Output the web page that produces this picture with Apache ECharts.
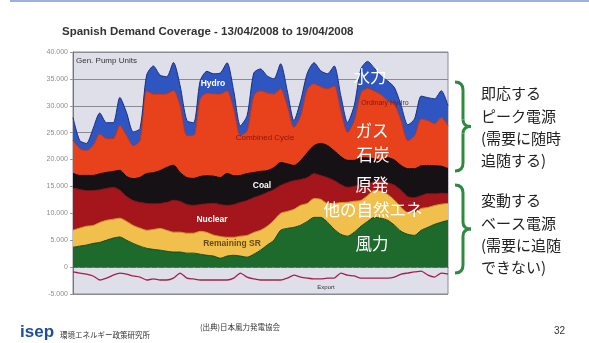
<!DOCTYPE html>
<html>
<head>
<meta charset="utf-8">
<script src="https://cdn.jsdelivr.net/npm/echarts@6/dist/echarts.min.js"></script>
<style>
html,body{margin:0;padding:0;background:#fff;}
#main{width:589px;height:343px;}
</style>
</head>
<body>
<div id="main"></div>
<script>
// 3-hourly points, 13/04/2008 00:00 to 20/04/2008 00:00 (MW)
var hours = [];
for (var h = 0; h <= 168; h += 3) {
  var d = 13 + Math.floor(h / 24);
  var hh = h % 24;
  hours.push(d + '/04 ' + (hh < 10 ? '0' : '') + hh + ':00');
}

var wind = [3700,3900,4100,4400,4600,5000,5400,5600,5000,4400,3900,3500,3300,3150,2950,2800,2800,2600,2600,2400,2200,2050,1650,2050,2200,2050,1850,2400,3150,4100,5000,6850,7200,7400,7800,8500,9250,9250,8350,7050,6100,5750,6500,7600,8500,9250,9100,8700,7800,6650,6100,5900,6850,7400,7950,8350,8700];
var remainingSR = [3150,3350,3500,3350,3700,3700,3500,3500,3500,3350,3350,3350,3700,4050,3900,3700,3700,3700,3700,4250,4250,3900,4050,3500,3350,3700,4050,4050,3700,3500,3700,3150,3150,3350,3700,3350,3500,3350,3500,4800,5900,6300,5750,4800,4800,5000,5000,4800,4650,4450,4050,4250,4050,3700,3500,3350,3150];
var nuclear = [7800,7200,6650,6500,6100,5950,5950,5200,4650,4650,4800,5000,4800,4650,5200,5950,5750,5350,5200,5000,5350,5950,5950,5950,6100,6300,6500,6500,6500,6300,5750,5200,5350,5350,4800,4800,4650,4450,4800,4250,3350,2800,2800,2950,2200,1650,2050,2200,2800,3150,2950,2800,2400,2600,2200,2050,1850];
var coal = [2800,2600,2800,2800,2950,2950,2950,3700,3700,4050,4650,5550,5750,6100,6500,6500,5350,5000,5000,5200,5200,5000,5000,5950,5350,5000,5000,4650,4450,4050,4050,4250,3500,2800,3500,4650,5200,5950,5950,5550,5200,5000,4800,5000,4800,4250,3700,4650,4650,4650,5200,5350,5550,5200,5200,5000,4650];
var combinedCycle = [6100,5000,4650,5550,7400,6300,6100,8350,7600,6100,6850,15350,14650,14250,13700,13900,12400,7800,7950,14450,15350,15350,15550,15350,12400,7400,7950,14250,15000,14450,13700,13700,10750,7050,8350,11850,11500,10550,10550,12050,8500,5200,7400,12050,12950,12600,12200,10550,10350,8350,5200,6100,8700,8350,7800,9050,7950];
var hydro = [4250,1500,1300,3150,3900,2950,2950,5200,4250,2600,2200,2950,5200,3500,3150,5200,3700,2800,2400,3350,4050,3700,3900,5200,3350,1850,2800,4250,4050,3150,2800,4650,2800,1300,2800,2950,3900,2950,2800,3700,2800,1850,2800,4450,5000,4250,3500,3700,3150,2800,2950,3150,4250,4250,4650,5000,3700];
var exportPump = [-900,-1100,-1300,-1650,-2400,-2050,-1500,-1100,-1300,-1650,-1850,-2400,-2200,-2400,-2400,-2050,-1100,-2050,-2200,-2400,-2400,-2400,-2400,-2400,-2050,-1100,-1850,-2200,-2400,-2400,-2400,-2400,-2050,-1500,-1850,-2050,-2200,-2200,-2050,-2050,-1100,-1500,-1650,-2050,-2050,-2050,-2050,-2050,-1850,-1300,-1100,-900,-750,-1500,-1850,-1100,-1300];

var yTicks = [-5000, 40000, 5000];

var chartDom = document.getElementById('main');
var myChart = echarts.init(chartDom, null, {renderer: 'canvas'});

function area(name, data, fill, edge) {
  return {
    name: name,
    type: 'line',
    stack: 'total',
    data: data,
    symbol: 'none',
    smooth: 0.25,
    lineStyle: {color: edge, width: 1},
    areaStyle: {color: fill, opacity: 1},
    z: 2
  };
}

var jp = '"Noto Sans CJK JP", sans-serif';
var en = '"Liberation Sans", Arial, sans-serif';

function label(x, y, text, size, color, weight, align) {
  return {
    type: 'text', x: x, y: y, z: 50,
    style: {
      text: text, fill: color, font: (weight || 'normal') + ' ' + size + 'px ' + en,
      textAlign: align || 'center', textVerticalAlign: 'middle'
    }
  };
}
function jlabel(x, y, text) {
  return {
    type: 'text', x: x, y: y, z: 50,
    style: {
      text: text, fill: '#fff', font: '16.5px ' + jp,
      textAlign: 'center', textVerticalAlign: 'middle',
      shadowColor: 'rgba(0,0,0,0.4)', shadowBlur: 2
    }
  };
}
function note(x, y, text) {
  return {
    type: 'text', x: x, y: y, z: 50,
    style: {text: text, fill: '#222', font: '15px ' + jp, textVerticalAlign: 'middle'}
  };
}
// curly brace built from curves and lines
function brace(top, bottom) {
  var mid = (top + bottom) / 2;
  var st = {stroke: '#2d8a40', lineWidth: 3, fill: null};
  return {
    type: 'group', z: 50,
    children: [
      {type: 'bezierCurve', shape: {x1: 455, y1: top, x2: 463, y2: top + 8, cpx1: 463, cpy1: top}, style: st},
      {type: 'line', shape: {x1: 463, y1: top + 8, x2: 463, y2: mid - 7}, style: st},
      {type: 'bezierCurve', shape: {x1: 463, y1: mid - 7, x2: 471, y2: mid, cpx1: 463, cpy1: mid}, style: st},
      {type: 'bezierCurve', shape: {x1: 471, y1: mid, x2: 463, y2: mid + 7, cpx1: 463, cpy1: mid}, style: st},
      {type: 'line', shape: {x1: 463, y1: mid + 7, x2: 463, y2: bottom - 8}, style: st},
      {type: 'bezierCurve', shape: {x1: 463, y1: bottom - 8, x2: 455, y2: bottom, cpx1: 463, cpy1: bottom}, style: st}
    ]
  };
}

var option = {
  backgroundColor: '#ffffff',
  animation: false,
  grid: {
    left: 73, right: 141, top: 52, bottom: 49,
    show: true, backgroundColor: '#dfdfe9', borderColor: '#8a8a96', borderWidth: 1
  },
  xAxis: {
    type: 'category',
    data: hours,
    boundaryGap: false,
    axisLine: {onZero: true, lineStyle: {color: '#d8324a', type: 'dashed', width: 1.2}},
    axisTick: {show: false},
    axisLabel: {show: false},
    z: 10
  },
  yAxis: {
    type: 'value',
    min: yTicks[0], max: yTicks[1], interval: yTicks[2],
    axisLine: {show: true, lineStyle: {color: '#777'}},
    axisTick: {show: true, length: 3, lineStyle: {color: '#999'}},
    axisLabel: {
      color: '#8d8d8d', fontSize: 7, margin: 5, fontFamily: en,
      formatter: function (v) { return String(v).replace(/\B(?=(\d{3})+(?!\d))/g, '.'); }
    },
    splitLine: {lineStyle: {color: '#8a8a92', width: 1}}
  },
  series: [
    area('Wind', wind, '#1e6a2c', '#11451a'),
    area('Remaining SR', remainingSR, '#f1c04c', '#c99a2a'),
    area('Nuclear', nuclear, '#a5161c', '#6e0e12'),
    area('Coal', coal, '#151114', '#000000'),
    area('Combined Cycle', combinedCycle, '#e8421c', '#b8301a'),
    area('Hydro', hydro, '#2e55c0', '#1a2e80'),
    {
      name: 'Export',
      type: 'line',
      data: exportPump,
      symbol: 'none',
      smooth: 0.2,
      lineStyle: {color: '#a3204c', width: 1.3},
      z: 5
    }
  ],
  graphic: [
    {type: 'rect', shape: {x: 10, y: 0, width: 579, height: 2}, style: {fill: '#9cb2dc'}},
    label(62, 32, 'Spanish Demand Coverage - 13/04/2008 to 19/04/2008', 11.5, '#333', 'bold', 'left'),
    label(76, 61, 'Gen. Pump Units', 8, '#333', 'normal', 'left'),
    label(213, 84, 'Hydro', 8.5, '#fff', 'bold'),
    label(385, 103, 'Ordinary Hydro', 7, '#7a1a1a'),
    label(265, 138, 'Combined Cycle', 8, '#8a1510'),
    label(262, 186, 'Coal', 8.5, '#fff', 'bold'),
    label(212, 220, 'Nuclear', 8.5, '#fff', 'bold'),
    label(232, 244, 'Remaining SR', 8.5, '#6a4a18', 'bold'),
    label(326, 287, 'Export', 6, '#333'),
    jlabel(370, 77, '水力'),
    jlabel(372, 131, 'ガス'),
    jlabel(373, 155, '石炭'),
    jlabel(372, 185, '原発'),
    jlabel(373, 210, '他の自然エネ'),
    jlabel(372, 244, '風力'),
    brace(82, 171),
    brace(185, 273),
    note(481, 93, '即応する'),
    note(481, 116, 'ピーク電源'),
    note(481, 138, '(需要に随時'),
    note(481, 160, '追随する)'),
    note(481, 200, '変動する'),
    note(481, 223, 'ベース電源'),
    note(481, 245, '(需要に追随'),
    note(481, 267, 'できない)'),
    label(20, 332, 'isep', 17, '#1d4d9e', 'bold', 'left'),
    {type: 'text', x: 60, y: 335, style: {text: '環境エネルギー政策研究所', fill: '#333', font: '7.5px ' + jp, textVerticalAlign: 'middle'}},
    {type: 'text', x: 200, y: 327, style: {text: '(出典)日本風力発電協会', fill: '#333', font: '7.5px ' + jp, textVerticalAlign: 'middle'}},
    label(554, 331, '32', 10, '#333', 'normal', 'left')
  ]
};

myChart.setOption(option);
</script>
</body>
</html>
